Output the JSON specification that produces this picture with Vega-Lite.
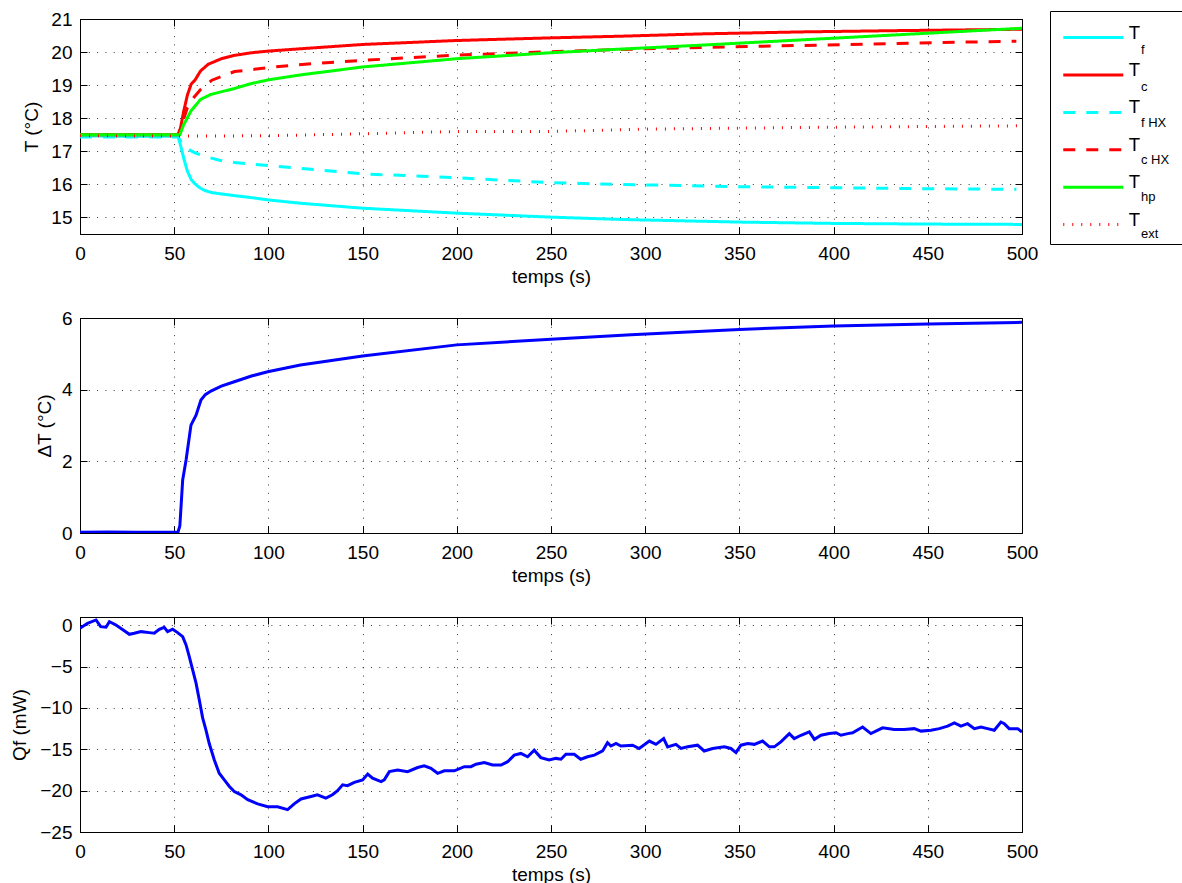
{
  "$schema": "https://vega.github.io/schema/vega-lite/v6.json",
  "padding": {"left": 10, "top": 9, "right": 0, "bottom": 0},
  "background": "white",
  "spacing": 84,
  "bounds": "flush",
  "config": {
    "font": "Liberation Sans",
    "view": {"stroke": "black", "strokeWidth": 1},
    "axis": {
      "labelFont": "Liberation Sans", "labelFontSize": 19, "labelColor": "black",
      "titleFont": "Liberation Sans", "titleFontSize": 19, "titleFontWeight": "normal", "titleColor": "black",
      "domainColor": "black", "tickColor": "black", "tickSize": -7,
      "grid": true, "gridColor": "#222", "gridDash": [1, 7.3], "gridOpacity": 0.9,
      "labelFlush": false
    },
    "axisX": {"labelPadding": 17.8, "titleY": 42, "titleBaseline": "middle"},
    "axisY": {"labelPadding": 15, "titleAngle": 270, "titleBaseline": "middle", "titleAlign": "center"}
  },
  "datasets": {
    "temp": [
      {"s":"Tf","t":0,"v":17.47},{"s":"Tf","t":25,"v":17.45},{"s":"Tf","t":52,"v":17.46},{"s":"Tf","t":53.5,"v":17.15},{"s":"Tf","t":55,"v":16.8},{"s":"Tf","t":57,"v":16.4},{"s":"Tf","t":59,"v":16.15},{"s":"Tf","t":61,"v":16.02},{"s":"Tf","t":63,"v":15.92},{"s":"Tf","t":66,"v":15.82},{"s":"Tf","t":70,"v":15.75},{"s":"Tf","t":82,"v":15.66},{"s":"Tf","t":91,"v":15.6},{"s":"Tf","t":100,"v":15.53},{"s":"Tf","t":117,"v":15.43},{"s":"Tf","t":150,"v":15.28},{"s":"Tf","t":200,"v":15.13},{"s":"Tf","t":250,"v":15.01},{"s":"Tf","t":287,"v":14.94},{"s":"Tf","t":350,"v":14.86},{"s":"Tf","t":400,"v":14.82},{"s":"Tf","t":450,"v":14.8},{"s":"Tf","t":500,"v":14.79},
      {"s":"Tc","t":0,"v":17.5},{"s":"Tc","t":52,"v":17.5},{"s":"Tc","t":53,"v":17.6},{"s":"Tc","t":55,"v":18.2},{"s":"Tc","t":57,"v":18.7},{"s":"Tc","t":59,"v":19.03},{"s":"Tc","t":61,"v":19.15},{"s":"Tc","t":64,"v":19.43},{"s":"Tc","t":68,"v":19.63},{"s":"Tc","t":75,"v":19.8},{"s":"Tc","t":82,"v":19.9},{"s":"Tc","t":91,"v":19.98},{"s":"Tc","t":100,"v":20.03},{"s":"Tc","t":117,"v":20.1},{"s":"Tc","t":150,"v":20.23},{"s":"Tc","t":200,"v":20.35},{"s":"Tc","t":250,"v":20.43},{"s":"Tc","t":287,"v":20.48},{"s":"Tc","t":330,"v":20.55},{"s":"Tc","t":383,"v":20.61},{"s":"Tc","t":436,"v":20.65},{"s":"Tc","t":500,"v":20.69},
      {"s":"TfHX","t":0,"v":17.43},{"s":"TfHX","t":52,"v":17.43},{"s":"TfHX","t":54.5,"v":17.21},{"s":"TfHX","t":57,"v":17.08},{"s":"TfHX","t":60.7,"v":16.96},{"s":"TfHX","t":66,"v":16.85},{"s":"TfHX","t":74,"v":16.73},{"s":"TfHX","t":82,"v":16.66},{"s":"TfHX","t":91,"v":16.61},{"s":"TfHX","t":100,"v":16.57},{"s":"TfHX","t":114,"v":16.5},{"s":"TfHX","t":150,"v":16.32},{"s":"TfHX","t":200,"v":16.2},{"s":"TfHX","t":250,"v":16.05},{"s":"TfHX","t":287,"v":16.0},{"s":"TfHX","t":350,"v":15.93},{"s":"TfHX","t":400,"v":15.9},{"s":"TfHX","t":450,"v":15.87},{"s":"TfHX","t":497,"v":15.85},
      {"s":"TcHX","t":0,"v":17.5},{"s":"TcHX","t":52,"v":17.5},{"s":"TcHX","t":54,"v":17.8},{"s":"TcHX","t":57,"v":18.32},{"s":"TcHX","t":60,"v":18.6},{"s":"TcHX","t":64,"v":18.87},{"s":"TcHX","t":70,"v":19.15},{"s":"TcHX","t":82,"v":19.41},{"s":"TcHX","t":100,"v":19.53},{"s":"TcHX","t":114,"v":19.61},{"s":"TcHX","t":150,"v":19.75},{"s":"TcHX","t":200,"v":19.91},{"s":"TcHX","t":250,"v":20.01},{"s":"TcHX","t":287,"v":20.08},{"s":"TcHX","t":330,"v":20.14},{"s":"TcHX","t":383,"v":20.2},{"s":"TcHX","t":440,"v":20.27},{"s":"TcHX","t":497,"v":20.33},
      {"s":"Thp","t":0,"v":17.5},{"s":"Thp","t":53,"v":17.5},{"s":"Thp","t":55,"v":17.8},{"s":"Thp","t":58.9,"v":18.22},{"s":"Thp","t":64,"v":18.57},{"s":"Thp","t":69.5,"v":18.72},{"s":"Thp","t":82,"v":18.9},{"s":"Thp","t":91,"v":19.05},{"s":"Thp","t":100,"v":19.16},{"s":"Thp","t":117,"v":19.31},{"s":"Thp","t":150,"v":19.55},{"s":"Thp","t":200,"v":19.8},{"s":"Thp","t":250,"v":19.98},{"s":"Thp","t":287,"v":20.09},{"s":"Thp","t":330,"v":20.21},{"s":"Thp","t":400,"v":20.42},{"s":"Thp","t":453,"v":20.58},{"s":"Thp","t":500,"v":20.72},
      {"s":"Text","t":0,"v":17.47},{"s":"Text","t":50,"v":17.46},{"s":"Text","t":100,"v":17.47},{"s":"Text","t":150,"v":17.53},{"s":"Text","t":200,"v":17.6},{"s":"Text","t":250,"v":17.6},{"s":"Text","t":300,"v":17.67},{"s":"Text","t":350,"v":17.7},{"s":"Text","t":400,"v":17.73},{"s":"Text","t":450,"v":17.75},{"s":"Text","t":498,"v":17.77}
    ],
    "subs": [
      {"s":"Tf","sub":"f"},{"s":"Tc","sub":"c"},{"s":"TfHX","sub":"f HX"},{"s":"TcHX","sub":"c HX"},{"s":"Thp","sub":"hp"},{"s":"Text","sub":"ext"}
    ],
    "dt": [
      {"t":0,"v":0.02},{"t":15,"v":0.03},{"t":30,"v":0.02},{"t":45,"v":0.02},{"t":52,"v":0.02},{"t":53,"v":0.2},{"t":54.5,"v":1.48},{"t":56.3,"v":2.04},{"t":58.9,"v":3.01},{"t":61.6,"v":3.29},{"t":64.2,"v":3.71},{"t":66.5,"v":3.86},{"t":69.5,"v":3.96},{"t":75,"v":4.1},{"t":81.9,"v":4.22},{"t":91,"v":4.38},{"t":99.6,"v":4.5},{"t":117,"v":4.69},{"t":150,"v":4.94},{"t":200,"v":5.25},{"t":250,"v":5.41},{"t":292.5,"v":5.53},{"t":350,"v":5.68},{"t":400,"v":5.78},{"t":450,"v":5.83},{"t":500,"v":5.88}
    ],
    "qf": [
      {"t":0,"v":-0.35},{"t":4,"v":0.24},{"t":8.5,"v":0.64},{"t":11,"v":-0.17},{"t":13.8,"v":-0.24},{"t":15.6,"v":0.44},{"t":19.1,"v":0.04},{"t":23.5,"v":-0.65},{"t":26.2,"v":-1.09},{"t":28.8,"v":-0.97},{"t":32.4,"v":-0.77},{"t":36.8,"v":-0.89},{"t":39.4,"v":-0.97},{"t":42.1,"v":-0.48},{"t":44.7,"v":-0.24},{"t":46.5,"v":-0.77},{"t":49.2,"v":-0.48},{"t":51.8,"v":-0.89},{"t":54.5,"v":-1.38},{"t":56.3,"v":-2.38},{"t":58,"v":-3.8},{"t":59.8,"v":-5.4},{"t":61.6,"v":-7.0},{"t":63.3,"v":-9.0},{"t":65.1,"v":-11.2},{"t":66.9,"v":-12.7},{"t":68.6,"v":-14.3},{"t":71.3,"v":-16.3},{"t":73.9,"v":-17.9},{"t":76.6,"v":-18.7},{"t":79.3,"v":-19.5},{"t":81.9,"v":-20.1},{"t":85.5,"v":-20.5},{"t":89,"v":-21.1},{"t":94.3,"v":-21.6},{"t":99.6,"v":-21.95},{"t":104.9,"v":-21.95},{"t":110.2,"v":-22.3},{"t":113.7,"v":-21.6},{"t":117.3,"v":-21.0},{"t":122.6,"v":-20.7},{"t":126,"v":-20.5},{"t":130.5,"v":-20.9},{"t":134,"v":-20.5},{"t":136.7,"v":-20.0},{"t":139.4,"v":-19.3},{"t":142,"v":-19.4},{"t":145.6,"v":-19.0},{"t":150,"v":-18.7},{"t":152.7,"v":-18.0},{"t":155.3,"v":-18.5},{"t":159.8,"v":-18.9},{"t":161.5,"v":-18.7},{"t":164.2,"v":-17.7},{"t":168.6,"v":-17.5},{"t":173.9,"v":-17.7},{"t":179.2,"v":-17.2},{"t":182.7,"v":-17.0},{"t":186.3,"v":-17.3},{"t":189.8,"v":-17.9},{"t":193.4,"v":-17.6},{"t":198.7,"v":-17.6},{"t":204,"v":-17.1},{"t":207.5,"v":-17.1},{"t":210.2,"v":-16.8},{"t":214.6,"v":-16.6},{"t":219,"v":-16.9},{"t":223.5,"v":-16.9},{"t":227,"v":-16.5},{"t":230.5,"v":-15.7},{"t":234,"v":-15.5},{"t":237.6,"v":-15.9},{"t":241.1,"v":-15.1},{"t":244.6,"v":-16.0},{"t":249,"v":-16.3},{"t":252.6,"v":-16.1},{"t":255.3,"v":-16.2},{"t":257.9,"v":-15.6},{"t":262.3,"v":-15.6},{"t":265.8,"v":-16.2},{"t":269.4,"v":-15.9},{"t":273,"v":-15.7},{"t":277.4,"v":-15.2},{"t":280,"v":-14.2},{"t":281.8,"v":-14.6},{"t":284.5,"v":-14.3},{"t":287.1,"v":-14.6},{"t":293.3,"v":-14.5},{"t":296.8,"v":-14.9},{"t":302.2,"v":-14.0},{"t":305.7,"v":-14.4},{"t":309.8,"v":-13.7},{"t":311.9,"v":-14.7},{"t":316.3,"v":-14.4},{"t":319,"v":-14.9},{"t":322.5,"v":-14.7},{"t":327.8,"v":-14.5},{"t":331.3,"v":-15.2},{"t":335.8,"v":-14.9},{"t":342,"v":-14.7},{"t":345.5,"v":-14.9},{"t":348.2,"v":-15.4},{"t":350.8,"v":-14.5},{"t":354.4,"v":-14.3},{"t":357.9,"v":-14.4},{"t":362.3,"v":-14.0},{"t":365.9,"v":-14.7},{"t":368.5,"v":-14.7},{"t":372,"v":-14.1},{"t":376.5,"v":-13.1},{"t":379.1,"v":-13.7},{"t":382.7,"v":-13.3},{"t":387.1,"v":-12.9},{"t":389.8,"v":-13.8},{"t":393.3,"v":-13.3},{"t":397.7,"v":-13.1},{"t":401.3,"v":-13.0},{"t":403.9,"v":-13.3},{"t":407.5,"v":-13.1},{"t":410.1,"v":-13.0},{"t":415.4,"v":-12.3},{"t":419.8,"v":-13.1},{"t":426,"v":-12.4},{"t":432.2,"v":-12.6},{"t":437.5,"v":-12.6},{"t":442.8,"v":-12.5},{"t":446.4,"v":-12.8},{"t":451.7,"v":-12.7},{"t":456.1,"v":-12.5},{"t":460.5,"v":-12.2},{"t":464.1,"v":-11.8},{"t":467.6,"v":-12.2},{"t":471.1,"v":-11.9},{"t":474.7,"v":-12.5},{"t":478.2,"v":-12.3},{"t":481.7,"v":-12.5},{"t":485.3,"v":-12.7},{"t":488.8,"v":-11.7},{"t":490.6,"v":-11.9},{"t":493.2,"v":-12.5},{"t":497.7,"v":-12.5},{"t":500,"v":-12.9}
    ]
  },
  "vconcat": [
    {
      "width": 942, "height": 215,
      "data": {"name": "temp"},
      "transform": [{"lookup": "s", "from": {"data": {"name": "subs"}, "key": "s", "fields": ["sub"]}}],
      "layer": [
        {
          "mark": {"type": "line", "strokeWidth": 3, "clip": true},
          "encoding": {
            "x": {"field": "t", "type": "quantitative", "scale": {"domain": [0, 500], "nice": false},
                  "axis": {"values": [0,50,100,150,200,250,300,350,400,450,500], "title": "temps (s)"}},
            "y": {"field": "v", "type": "quantitative", "scale": {"domain": [14.5, 21], "nice": false, "zero": false},
                  "axis": {"values": [15,16,17,18,19,20,21], "title": "T (°C)", "titleX": -48.5}},
            "color": {"field": "s", "type": "nominal",
              "scale": {"domain": ["Tf","Tc","TfHX","TcHX","Thp","Text"], "range": ["#00FFFF","#FF0000","#00FFFF","#FF0000","#00FF00","#FF0000"]},
              "legend": {"orient": "none", "legendX": 970, "legendY": -8, "title": " ", "titleFontSize": 3.5, "titlePadding": 0.3,
                "padding": 13.3, "strokeColor": "black",
                "symbolType": "M-1.19,0H6.31M11.99,0", "symbolSize": 256, "symbolStrokeWidth": 3,
                "labelExpr": "'T'", "labelFont": "Liberation Sans", "labelFontSize": 18.5, "labelColor": "black",
                "labelOffset": 46.4, "rowPadding": 16.4,
                "encode": {"labels": {"update": {"dy": {"value": -5}}}}}},
            "strokeDash": {"field": "s", "type": "nominal",
              "scale": {"domain": ["Tf","Tc","TfHX","TcHX","Thp","Text"], "range": [[1,0],[1,0],[12,11],[12,11],[1,0],[1,8]]}},
            "opacity": {"field": "sub", "type": "nominal",
              "scale": {"domain": ["f","c","f HX","c HX","hp","ext"], "range": [1, 1]},
              "legend": {"orient": "none", "legendX": 983.3, "legendY": 21.3, "title": null,
                "padding": 0,
                "symbolType": "M-1.19,0H6.31", "symbolSize": 256, "symbolStrokeWidth": 3,
                "symbolStrokeColor": "transparent", "symbolFillColor": "transparent",
                "labelFont": "Liberation Sans", "labelFontSize": 13, "labelColor": "black",
                "labelOffset": 58.7, "rowPadding": 19.8}}
          }
        },
        {
          "mark": {"type": "line", "strokeOpacity": 0},
          "encoding": {
            "x": {"field": "t", "type": "quantitative",
                  "axis": {"orient": "top", "values": [0,50,100,150,200,250,300,350,400,450,500], "labels": false, "title": null, "grid": false}},
            "y": {"field": "v", "type": "quantitative",
                  "axis": {"orient": "right", "values": [15,16,17,18,19,20,21], "labels": false, "title": null, "grid": false}}
          }
        }
      ],
      "resolve": {"axis": {"x": "independent", "y": "independent"}}
    },
    {
      "width": 942, "height": 215,
      "data": {"name": "dt"},
      "layer": [
        {
          "mark": {"type": "line", "strokeWidth": 3, "color": "#0000FF", "clip": true},
          "encoding": {
            "x": {"field": "t", "type": "quantitative", "scale": {"domain": [0, 500], "nice": false},
                  "axis": {"values": [0,50,100,150,200,250,300,350,400,450,500], "title": "temps (s)"}},
            "y": {"field": "v", "type": "quantitative", "scale": {"domain": [0, 6], "nice": false},
                  "axis": {"values": [0,2,4,6], "title": "ΔT (°C)", "titleX": -35.5}}
          }
        },
        {
          "mark": {"type": "line", "strokeOpacity": 0},
          "encoding": {
            "x": {"field": "t", "type": "quantitative",
                  "axis": {"orient": "top", "values": [0,50,100,150,200,250,300,350,400,450,500], "labels": false, "title": null, "grid": false}},
            "y": {"field": "v", "type": "quantitative",
                  "axis": {"orient": "right", "values": [0,2,4,6], "labels": false, "title": null, "grid": false}}
          }
        }
      ],
      "resolve": {"axis": {"x": "independent", "y": "independent"}}
    },
    {
      "width": 942, "height": 215,
      "data": {"name": "qf"},
      "layer": [
        {
          "mark": {"type": "line", "strokeWidth": 3, "color": "#0000FF", "clip": true},
          "encoding": {
            "x": {"field": "t", "type": "quantitative", "scale": {"domain": [0, 500], "nice": false},
                  "axis": {"values": [0,50,100,150,200,250,300,350,400,450,500], "title": "temps (s)"}},
            "y": {"field": "v", "type": "quantitative", "scale": {"domain": [-25, 1], "nice": false, "zero": false},
                  "axis": {"values": [-25,-20,-15,-10,-5,0], "title": "Qf (mW)", "titleX": -60.5}}
          }
        },
        {
          "mark": {"type": "line", "strokeOpacity": 0},
          "encoding": {
            "x": {"field": "t", "type": "quantitative",
                  "axis": {"orient": "top", "values": [0,50,100,150,200,250,300,350,400,450,500], "labels": false, "title": null, "grid": false}},
            "y": {"field": "v", "type": "quantitative",
                  "axis": {"orient": "right", "values": [-25,-20,-15,-10,-5,0], "labels": false, "title": null, "grid": false}}
          }
        }
      ],
      "resolve": {"axis": {"x": "independent", "y": "independent"}}
    }
  ]
}
